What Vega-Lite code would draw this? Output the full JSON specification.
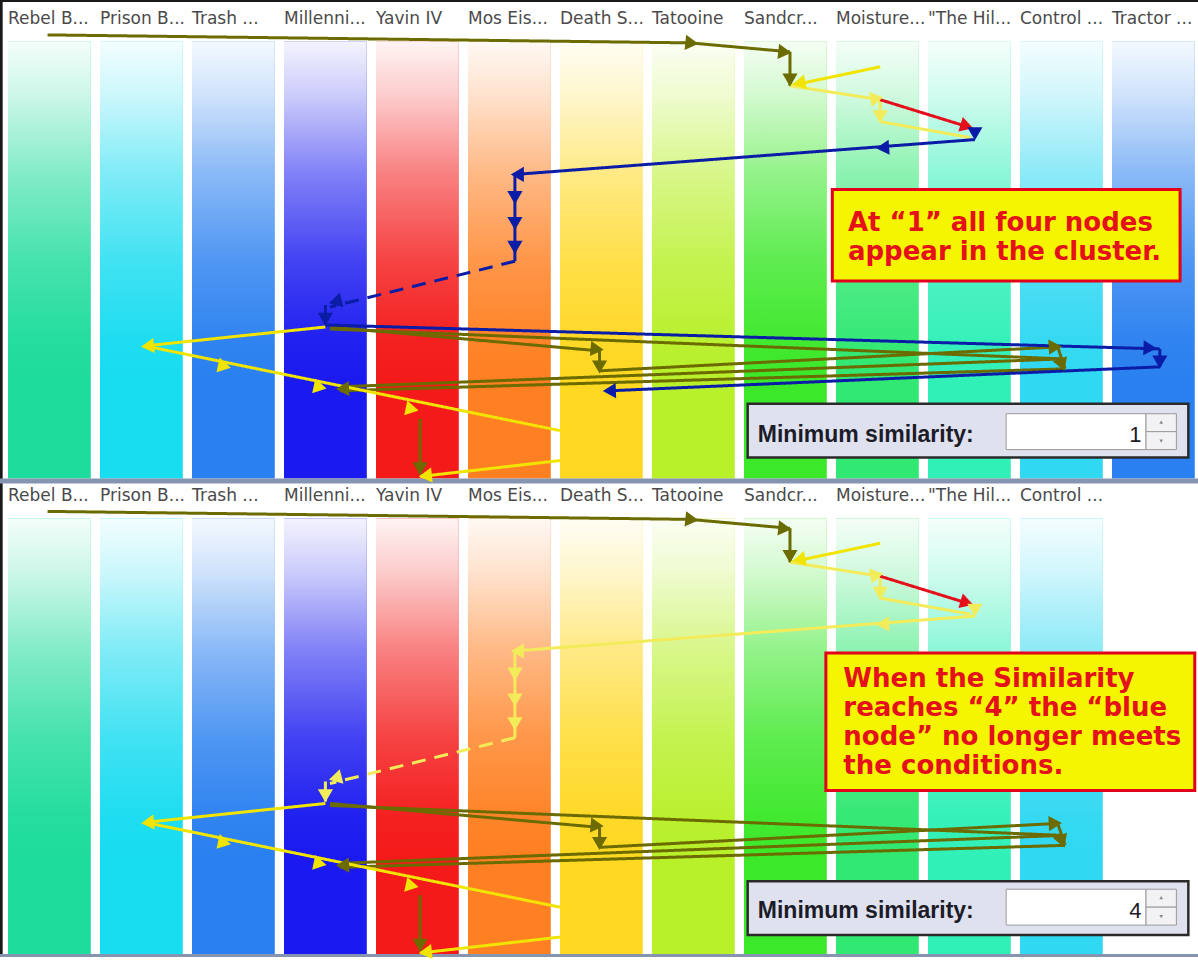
{
"$schema":"https://vega.github.io/schema/vega-lite/v6.json",
"width":1198,"height":960,"padding":0,
"autosize":{"type":"fit","contains":"padding"},
"background":"#ffffff",
"config":{"view":{"stroke":null}},
"resolve":{"scale":{"color":"independent","fill":"independent","stroke":"independent"}},
"datasets":{
"cols":[
{"name":"Rebel B...","x":0,"y":42,"y2":480,"ly":24},
{"name":"Prison B...","x":1,"y":42,"y2":480,"ly":24},
{"name":"Trash ...","x":2,"y":42,"y2":480,"ly":24},
{"name":"Millenni...","x":3,"y":42,"y2":480,"ly":24},
{"name":"Yavin IV","x":4,"y":42,"y2":480,"ly":24},
{"name":"Mos Eis...","x":5,"y":42,"y2":480,"ly":24},
{"name":"Death S...","x":6,"y":42,"y2":480,"ly":24},
{"name":"Tatooine","x":7,"y":42,"y2":480,"ly":24},
{"name":"Sandcr...","x":8,"y":42,"y2":480,"ly":24},
{"name":"Moisture...","x":9,"y":42,"y2":480,"ly":24},
{"name":"\"The Hil...","x":10,"y":42,"y2":480,"ly":24},
{"name":"Control ...","x":11,"y":42,"y2":480,"ly":24},
{"name":"Tractor ...","x":12,"y":42,"y2":480,"ly":24},
{"name":"Rebel B...","x":0,"y":520,"y2":958,"ly":503},
{"name":"Prison B...","x":1,"y":520,"y2":958,"ly":503},
{"name":"Trash ...","x":2,"y":520,"y2":958,"ly":503},
{"name":"Millenni...","x":3,"y":520,"y2":958,"ly":503},
{"name":"Yavin IV","x":4,"y":520,"y2":958,"ly":503},
{"name":"Mos Eis...","x":5,"y":520,"y2":958,"ly":503},
{"name":"Death S...","x":6,"y":520,"y2":958,"ly":503},
{"name":"Tatooine","x":7,"y":520,"y2":958,"ly":503},
{"name":"Sandcr...","x":8,"y":520,"y2":958,"ly":503},
{"name":"Moisture...","x":9,"y":520,"y2":958,"ly":503},
{"name":"\"The Hil...","x":10,"y":520,"y2":958,"ly":503},
{"name":"Control ...","x":11,"y":520,"y2":958,"ly":503}
],
"frame":[
{"k":"dark","x":-0.087,"x2":12.935,"y":0,"y2":2},
{"k":"dark","x":-0.087,"x2":-0.058,"y":0,"y2":960},
{"k":"bar","x":-0.087,"x2":12.935,"y":480,"y2":485},
{"k":"bar","x":-0.087,"x2":12.935,"y":957,"y2":960}
],
"segs":[
{"s":"olive","d":"solid","x":0.43,"y":35,"x2":7.41,"y2":43},
{"s":"olive","d":"solid","x":7.41,"y":43,"x2":8.5,"y2":52},
{"s":"olive","d":"solid","x":8.5,"y":52,"x2":8.5,"y2":86},
{"s":"olive","d":"solid","x":3.5,"y":328,"x2":6.43,"y2":352},
{"s":"olive","d":"solid","x":6.43,"y":352,"x2":6.43,"y2":372},
{"s":"olive","d":"solid","x":6.43,"y":372,"x2":11.41,"y2":348},
{"s":"olive","d":"solid","x":11.41,"y":348,"x2":11.49,"y2":370},
{"s":"olive","d":"solid","x":11.49,"y":370,"x2":3.61,"y2":392},
{"s":"olive","d":"solid","x":3.5,"y":330,"x2":11.46,"y2":360},
{"s":"olive","d":"solid","x":11.46,"y":360,"x2":3.61,"y2":388},
{"s":"olive","d":"solid","x":4.48,"y":420,"x2":4.48,"y2":476},
{"s":"yellow","d":"solid","x":9.48,"y":67,"x2":8.5,"y2":86},
{"s":"yellow","d":"solid","x":3.45,"y":328,"x2":1.49,"y2":347},
{"s":"yellow","d":"solid","x":1.49,"y":347,"x2":6.0,"y2":432},
{"s":"yellow","d":"solid","x":4.48,"y":478,"x2":6.0,"y2":462},
{"s":"pale","d":"solid","x":8.5,"y":86,"x2":9.48,"y2":100},
{"s":"pale","d":"solid","x":9.48,"y":100,"x2":9.48,"y2":122},
{"s":"pale","d":"solid","x":9.48,"y":122,"x2":10.46,"y2":138},
{"s":"red","d":"solid","x":9.48,"y":100,"x2":10.46,"y2":128},
{"s":"blue","d":"solid","x":10.51,"y":140,"x2":5.51,"y2":175},
{"s":"blue","d":"solid","x":5.51,"y":175,"x2":5.51,"y2":262},
{"s":"blue","d":"dashed","x":5.51,"y":262,"x2":3.5,"y2":308},
{"s":"blue","d":"solid","x":3.45,"y":306,"x2":3.45,"y2":326},
{"s":"blue","d":"solid","x":3.45,"y":326,"x2":12.52,"y2":350},
{"s":"blue","d":"solid","x":12.52,"y":350,"x2":12.52,"y2":368},
{"s":"blue","d":"solid","x":12.52,"y":368,"x2":6.54,"y2":392},
{"s":"olive","d":"solid","x":0.43,"y":513,"x2":7.41,"y2":521},
{"s":"olive","d":"solid","x":7.41,"y":521,"x2":8.5,"y2":530},
{"s":"olive","d":"solid","x":8.5,"y":530,"x2":8.5,"y2":564},
{"s":"olive","d":"solid","x":3.5,"y":806,"x2":6.43,"y2":830},
{"s":"olive","d":"solid","x":6.43,"y":830,"x2":6.43,"y2":850},
{"s":"olive","d":"solid","x":6.43,"y":850,"x2":11.41,"y2":826},
{"s":"olive","d":"solid","x":11.41,"y":826,"x2":11.49,"y2":848},
{"s":"olive","d":"solid","x":11.49,"y":848,"x2":3.61,"y2":870},
{"s":"olive","d":"solid","x":3.5,"y":808,"x2":11.46,"y2":838},
{"s":"olive","d":"solid","x":11.46,"y":838,"x2":3.61,"y2":866},
{"s":"olive","d":"solid","x":4.48,"y":898,"x2":4.48,"y2":954},
{"s":"yellow","d":"solid","x":9.48,"y":545,"x2":8.5,"y2":564},
{"s":"yellow","d":"solid","x":3.45,"y":806,"x2":1.49,"y2":825},
{"s":"yellow","d":"solid","x":1.49,"y":825,"x2":6.0,"y2":910},
{"s":"yellow","d":"solid","x":4.48,"y":956,"x2":6.0,"y2":940},
{"s":"pale","d":"solid","x":8.5,"y":564,"x2":9.48,"y2":578},
{"s":"pale","d":"solid","x":9.48,"y":578,"x2":9.48,"y2":600},
{"s":"pale","d":"solid","x":9.48,"y":600,"x2":10.46,"y2":616},
{"s":"red","d":"solid","x":9.48,"y":578,"x2":10.46,"y2":606},
{"s":"pale","d":"solid","x":10.51,"y":618,"x2":5.51,"y2":653},
{"s":"pale","d":"solid","x":5.51,"y":653,"x2":5.51,"y2":740},
{"s":"pale","d":"dashed","x":5.51,"y":740,"x2":3.5,"y2":786},
{"s":"pale","d":"solid","x":3.45,"y":784,"x2":3.45,"y2":804}
],
"arrows":[
{"s":"olive","x":7.41,"y":43,"dir":96},
{"s":"olive","x":8.42,"y":52,"dir":96},
{"s":"olive","x":8.5,"y":78,"dir":180},
{"s":"olive","x":6.38,"y":350,"dir":95},
{"s":"olive","x":6.43,"y":366,"dir":180},
{"s":"olive","x":11.36,"y":348,"dir":87},
{"s":"olive","x":11.45,"y":364,"dir":160},
{"s":"olive","x":3.66,"y":390,"dir":268},
{"s":"olive","x":4.48,"y":468,"dir":180},
{"s":"yellow","x":8.62,"y":83,"dir":259},
{"s":"yellow","x":1.54,"y":347,"dir":264},
{"s":"yellow","x":2.33,"y":367,"dir":102},
{"s":"yellow","x":3.37,"y":388,"dir":102},
{"s":"yellow","x":4.37,"y":410,"dir":102},
{"s":"yellow","x":4.56,"y":477,"dir":264},
{"s":"pale","x":9.42,"y":99,"dir":80},
{"s":"pale","x":9.48,"y":115,"dir":180},
{"s":"red","x":10.40,"y":126,"dir":107},
{"s":"blue","x":10.51,"y":132,"dir":180},
{"s":"blue","x":9.53,"y":148,"dir":266},
{"s":"blue","x":5.56,"y":175,"dir":270},
{"s":"blue","x":5.51,"y":196,"dir":180},
{"s":"blue","x":5.51,"y":222,"dir":180},
{"s":"blue","x":5.51,"y":246,"dir":180},
{"s":"blue","x":3.58,"y":302,"dir":256},
{"s":"blue","x":3.45,"y":318,"dir":180},
{"s":"blue","x":12.39,"y":349,"dir":92},
{"s":"blue","x":12.52,"y":361,"dir":180},
{"s":"blue","x":6.56,"y":392,"dir":268},
{"s":"olive","x":7.41,"y":521,"dir":96},
{"s":"olive","x":8.42,"y":530,"dir":96},
{"s":"olive","x":8.5,"y":556,"dir":180},
{"s":"olive","x":6.38,"y":828,"dir":95},
{"s":"olive","x":6.43,"y":844,"dir":180},
{"s":"olive","x":11.36,"y":826,"dir":87},
{"s":"olive","x":11.45,"y":842,"dir":160},
{"s":"olive","x":3.66,"y":868,"dir":268},
{"s":"olive","x":4.48,"y":946,"dir":180},
{"s":"yellow","x":8.62,"y":561,"dir":259},
{"s":"yellow","x":1.54,"y":825,"dir":264},
{"s":"yellow","x":2.33,"y":845,"dir":102},
{"s":"yellow","x":3.37,"y":866,"dir":102},
{"s":"yellow","x":4.37,"y":888,"dir":102},
{"s":"yellow","x":4.56,"y":955,"dir":264},
{"s":"pale","x":9.42,"y":577,"dir":80},
{"s":"pale","x":9.48,"y":593,"dir":180},
{"s":"red","x":10.40,"y":604,"dir":107},
{"s":"pale","x":10.51,"y":610,"dir":180},
{"s":"pale","x":9.53,"y":626,"dir":266},
{"s":"pale","x":5.56,"y":653,"dir":270},
{"s":"pale","x":5.51,"y":674,"dir":180},
{"s":"pale","x":5.51,"y":700,"dir":180},
{"s":"pale","x":5.51,"y":724,"dir":180},
{"s":"pale","x":3.58,"y":780,"dir":256},
{"s":"pale","x":3.45,"y":796,"dir":180}
],
"notes":[
{"x":8.96,"x2":12.74,"y":190,"y2":282},
{"x":8.89,"x2":12.9,"y":655,"y2":793}
],
"noteLines":[
{"t":"At “1” all four nodes","x":9.13,"y":232},
{"t":"appear in the cluster.","x":9.13,"y":261},
{"t":"When the Similarity","x":9.08,"y":689},
{"t":"reaches “4” the “blue","x":9.08,"y":718},
{"t":"node” no longer meets","x":9.08,"y":747},
{"t":"the conditions.","x":9.08,"y":776}
],
"widget":[
{"k":"panel","x":8.04,"x2":12.83,"y":405,"y2":459},
{"k":"input","x":10.85,"x2":12.37,"y":415,"y2":451},
{"k":"spin","x":12.37,"x2":12.70,"y":415,"y2":433},
{"k":"spin","x":12.37,"x2":12.70,"y":433,"y2":451},
{"k":"panel","x":8.04,"x2":12.83,"y":884,"y2":938},
{"k":"input","x":10.85,"x2":12.37,"y":892,"y2":928},
{"k":"spin","x":12.37,"x2":12.70,"y":892,"y2":910},
{"k":"spin","x":12.37,"x2":12.70,"y":910,"y2":928}
],
"widgetText":[
{"k":"label","t":"Minimum similarity:","x":8.15,"y":443},
{"k":"value","t":"1","x":12.32,"y":443},
{"k":"label","t":"Minimum similarity:","x":8.15,"y":921},
{"k":"value","t":"4","x":12.32,"y":921}
],
"spinGlyph":[
{"x":12.535,"y":424,"dir":0},
{"x":12.535,"y":442,"dir":180},
{"x":12.535,"y":901,"dir":0},
{"x":12.535,"y":919,"dir":180}
]
},
"layer":[
{"data":{"name":"cols"},"transform":[{"calculate":"datum.x+0.9","as":"x2"}],
 "mark":{"type":"rect"},
 "encoding":{
  "x":{"field":"x","type":"quantitative","scale":{"domain":[-0.087,12.935],"nice":false,"zero":false},"axis":null},
  "x2":{"field":"x2"},
  "y":{"field":"y","type":"quantitative","scale":{"domain":[0,960],"reverse":true,"nice":false,"zero":false},"axis":null},
  "y2":{"field":"y2"},
  "color":{"field":"name","type":"nominal","legend":null,"scale":{
   "domain":["Rebel B...","Prison B...","Trash ...","Millenni...","Yavin IV","Mos Eis...","Death S...","Tatooine","Sandcr...","Moisture...","\"The Hil...","Control ...","Tractor ..."],
   "range":["#1edc9c","#18dcf0","#2a80f0","#1a1af0","#f41a1a","#ff8022","#ffd822","#b8f02a","#3ce82a","#30e872","#30f0b8","#30d8f2","#2a80f0"]}}
 }},
{"data":{"name":"cols"},"transform":[{"calculate":"datum.x+0.9","as":"x2"}],
 "mark":{"type":"rect","fill":{"gradient":"linear","x1":0,"y1":0,"x2":0,"y2":1,"stops":[
   {"offset":0,"color":"rgba(255,255,255,0.95)"},
   {"offset":0.12,"color":"rgba(255,255,255,0.78)"},
   {"offset":0.3,"color":"rgba(255,255,255,0.45)"},
   {"offset":0.5,"color":"rgba(255,255,255,0.18)"},
   {"offset":0.68,"color":"rgba(255,255,255,0.03)"},
   {"offset":0.78,"color":"rgba(255,255,255,0)"},
   {"offset":1,"color":"rgba(255,255,255,0)"}]}},
 "encoding":{
  "x":{"field":"x","type":"quantitative","scale":{"domain":[-0.087,12.935],"nice":false,"zero":false},"axis":null},
  "x2":{"field":"x2"},
  "y":{"field":"y","type":"quantitative","scale":{"domain":[0,960],"reverse":true,"nice":false,"zero":false},"axis":null},
  "y2":{"field":"y2"}
 }},
{"data":{"name":"frame"},"transform":[{"filter":"datum.k=='dark'"}],
 "mark":{"type":"rect","fill":"#1a1a1a"},
 "encoding":{
  "x":{"field":"x","type":"quantitative","scale":{"domain":[-0.087,12.935],"nice":false,"zero":false},"axis":null},
  "x2":{"field":"x2"},
  "y":{"field":"y","type":"quantitative","scale":{"domain":[0,960],"reverse":true,"nice":false,"zero":false},"axis":null},
  "y2":{"field":"y2"}
 }},
{"data":{"name":"frame"},"transform":[{"filter":"datum.k=='bar'"}],
 "mark":{"type":"rect","fill":"#8594b0"},
 "encoding":{
  "x":{"field":"x","type":"quantitative","scale":{"domain":[-0.087,12.935],"nice":false,"zero":false},"axis":null},
  "x2":{"field":"x2"},
  "y":{"field":"y","type":"quantitative","scale":{"domain":[0,960],"reverse":true,"nice":false,"zero":false},"axis":null},
  "y2":{"field":"y2"}
 }},
{"data":{"name":"cols"},
 "mark":{"type":"text","align":"left","baseline":"alphabetic","font":"DejaVu Sans","fontSize":17,"fill":"#4a4a4a"},
 "encoding":{
  "x":{"field":"x","type":"quantitative","scale":{"domain":[-0.087,12.935],"nice":false,"zero":false},"axis":null},
  "y":{"field":"ly","type":"quantitative","scale":{"domain":[0,960],"reverse":true,"nice":false,"zero":false},"axis":null},
  "text":{"field":"name"}
 }},
{"data":{"name":"segs"},
 "mark":{"type":"rule","strokeWidth":3,"strokeCap":"butt"},
 "encoding":{
  "x":{"field":"x","type":"quantitative","scale":{"domain":[-0.087,12.935],"nice":false,"zero":false},"axis":null},
  "x2":{"field":"x2"},
  "y":{"field":"y","type":"quantitative","scale":{"domain":[0,960],"reverse":true,"nice":false,"zero":false},"axis":null},
  "y2":{"field":"y2"},
  "color":{"field":"s","type":"nominal","legend":null,"scale":{"domain":["olive","yellow","pale","red","blue"],"range":["#6b6b00","#f0e400","#f3ec5a","#e3101c","#0b1ca6"]}},
  "strokeDash":{"field":"d","type":"nominal","legend":null,"scale":{"domain":["solid","dashed"],"range":[[1,0],[14,9]]}}
 }},
{"data":{"name":"arrows"},
 "mark":{"type":"point","shape":"triangle","filled":true,"size":230,"opacity":1,"strokeWidth":0},
 "encoding":{
  "x":{"field":"x","type":"quantitative","scale":{"domain":[-0.087,12.935],"nice":false,"zero":false},"axis":null},
  "y":{"field":"y","type":"quantitative","scale":{"domain":[0,960],"reverse":true,"nice":false,"zero":false},"axis":null},
  "angle":{"field":"dir","type":"quantitative","scale":null},
  "color":{"field":"s","type":"nominal","legend":null,"scale":{"domain":["olive","yellow","pale","red","blue"],"range":["#6b6b00","#f0e400","#f3ec5a","#e3101c","#0b1ca6"]}}
 }},
{"data":{"name":"notes"},
 "mark":{"type":"rect","fill":"#f5f500","stroke":"#e2001a","strokeWidth":3},
 "encoding":{
  "x":{"field":"x","type":"quantitative","scale":{"domain":[-0.087,12.935],"nice":false,"zero":false},"axis":null},
  "x2":{"field":"x2"},
  "y":{"field":"y","type":"quantitative","scale":{"domain":[0,960],"reverse":true,"nice":false,"zero":false},"axis":null},
  "y2":{"field":"y2"}
 }},
{"data":{"name":"noteLines"},
 "mark":{"type":"text","align":"left","baseline":"alphabetic","font":"DejaVu Sans","fontWeight":"bold","fontSize":26,"fill":"#e4101a"},
 "encoding":{
  "x":{"field":"x","type":"quantitative","scale":{"domain":[-0.087,12.935],"nice":false,"zero":false},"axis":null},
  "y":{"field":"y","type":"quantitative","scale":{"domain":[0,960],"reverse":true,"nice":false,"zero":false},"axis":null},
  "text":{"field":"t"}
 }},
{"data":{"name":"widget"},"transform":[{"filter":"datum.k=='panel'"}],
 "mark":{"type":"rect","fill":"#dfe1ef","stroke":"#2a2a2a","strokeWidth":2.5},
 "encoding":{
  "x":{"field":"x","type":"quantitative","scale":{"domain":[-0.087,12.935],"nice":false,"zero":false},"axis":null},
  "x2":{"field":"x2"},
  "y":{"field":"y","type":"quantitative","scale":{"domain":[0,960],"reverse":true,"nice":false,"zero":false},"axis":null},
  "y2":{"field":"y2"}
 }},
{"data":{"name":"widget"},"transform":[{"filter":"datum.k=='input'"}],
 "mark":{"type":"rect","fill":"#ffffff","stroke":"#9a9a9a","strokeWidth":1},
 "encoding":{
  "x":{"field":"x","type":"quantitative","scale":{"domain":[-0.087,12.935],"nice":false,"zero":false},"axis":null},
  "x2":{"field":"x2"},
  "y":{"field":"y","type":"quantitative","scale":{"domain":[0,960],"reverse":true,"nice":false,"zero":false},"axis":null},
  "y2":{"field":"y2"}
 }},
{"data":{"name":"widget"},"transform":[{"filter":"datum.k=='spin'"}],
 "mark":{"type":"rect","fill":"#f2f2f4","stroke":"#9a9a9a","strokeWidth":1},
 "encoding":{
  "x":{"field":"x","type":"quantitative","scale":{"domain":[-0.087,12.935],"nice":false,"zero":false},"axis":null},
  "x2":{"field":"x2"},
  "y":{"field":"y","type":"quantitative","scale":{"domain":[0,960],"reverse":true,"nice":false,"zero":false},"axis":null},
  "y2":{"field":"y2"}
 }},
{"data":{"name":"spinGlyph"},
 "mark":{"type":"point","shape":"triangle","filled":true,"size":14,"color":"#888888","opacity":1},
 "encoding":{
  "x":{"field":"x","type":"quantitative","scale":{"domain":[-0.087,12.935],"nice":false,"zero":false},"axis":null},
  "y":{"field":"y","type":"quantitative","scale":{"domain":[0,960],"reverse":true,"nice":false,"zero":false},"axis":null},
  "angle":{"field":"dir","type":"quantitative","scale":null}
 }},
{"data":{"name":"widgetText"},"transform":[{"filter":"datum.k=='label'"}],
 "mark":{"type":"text","align":"left","baseline":"alphabetic","font":"Liberation Sans","fontWeight":"bold","fontSize":23,"fill":"#1c1c28"},
 "encoding":{
  "x":{"field":"x","type":"quantitative","scale":{"domain":[-0.087,12.935],"nice":false,"zero":false},"axis":null},
  "y":{"field":"y","type":"quantitative","scale":{"domain":[0,960],"reverse":true,"nice":false,"zero":false},"axis":null},
  "text":{"field":"t"}
 }},
{"data":{"name":"widgetText"},"transform":[{"filter":"datum.k=='value'"}],
 "mark":{"type":"text","align":"right","baseline":"alphabetic","font":"Liberation Sans","fontSize":22,"fill":"#1c1c28"},
 "encoding":{
  "x":{"field":"x","type":"quantitative","scale":{"domain":[-0.087,12.935],"nice":false,"zero":false},"axis":null},
  "y":{"field":"y","type":"quantitative","scale":{"domain":[0,960],"reverse":true,"nice":false,"zero":false},"axis":null},
  "text":{"field":"t"}
 }}
]
}
